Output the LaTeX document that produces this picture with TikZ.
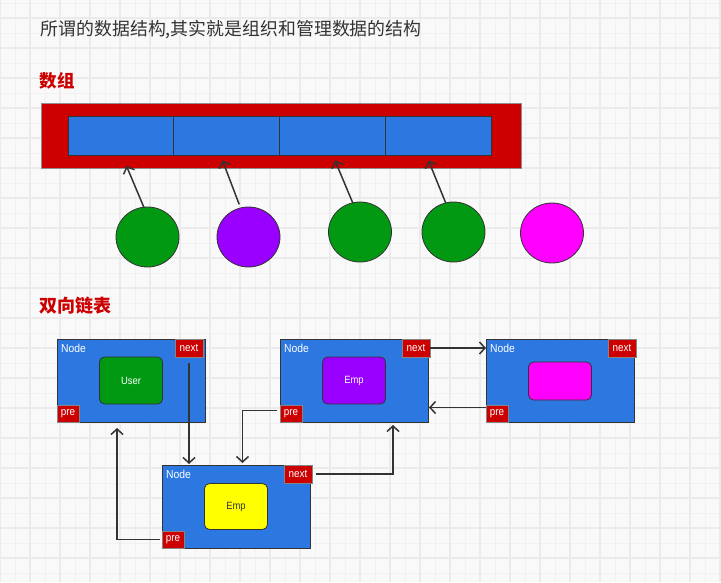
\documentclass[tikz,border=0pt]{standalone}
\usepackage{fontspec}
\setmainfont{Liberation Sans}
\newfontfamily\cjk{Noto Sans CJK SC}
\newfontfamily\lblfont[FakeStretch=0.9]{Liberation Sans}
\usetikzlibrary{arrows.meta,shapes.geometric}
\definecolor{paper}{HTML}{F9F9F9}
\definecolor{gridminor}{HTML}{F1F1F1}
\definecolor{gridmajor}{HTML}{EBEBEB}
\definecolor{ink}{HTML}{333333}
\definecolor{hdred}{HTML}{CC0000}
\definecolor{cellblue}{HTML}{2C78E0}
\definecolor{objgreen}{HTML}{009911}
\definecolor{objpurple}{HTML}{9900FF}
\definecolor{objpink}{HTML}{FF00FF}
\definecolor{objyellow}{HTML}{FFFF00}

\begin{document}
\begin{tikzpicture}[x=1pt,y=-1pt,
  box/.style={rectangle, inner sep=0pt, outer sep=0pt},
  cellbox/.style={box, draw=ink, line width=0.9pt, fill=cellblue,
    minimum width=105.75pt, minimum height=39pt},
  ball/.style={ellipse, inner sep=0pt, outer sep=0pt, draw=ink, line width=0.8pt,
    minimum width=63pt, minimum height=60pt},
  lnode/.style={box, draw=ink, line width=0.9pt, fill=cellblue,
    minimum width=148pt, minimum height=83pt},
  tag/.style={box, draw=ink!60, line width=0.6pt, fill=hdred, text=white,
    font=\lblfont\fontsize{11}{12}\selectfont, minimum height=18pt},
  nexttag/.style={tag, minimum width=28pt, anchor=north east},
  pretag/.style={tag, minimum width=22pt, minimum height=17pt, anchor=south west},
  nodelbl/.style={inner sep=0pt, anchor=west, text=white,
    font=\lblfont\fontsize{11.5}{12}\selectfont},
  payload/.style={box, draw=ink, line width=0.8pt, rounded corners=5pt,
    minimum width=63pt, minimum height=47pt, font=\lblfont\fontsize{10.5}{11}\selectfont},
  ptr/.style={draw=ink, line width=1.5pt, -{Straight Barb[length=5.5pt,width=12pt]}},
  heading/.style={inner sep=0pt, anchor=west, text=hdred}
]
\useasboundingbox (0,0) rectangle (721,582);

% squared paper
\fill[paper] (0,0) rectangle (721,582);
\foreach \x in {15,45,...,705} \draw[gridminor, line width=1pt] (\x,0) -- (\x,582);
\foreach \y in {3,33,...,573} \draw[gridminor, line width=1pt] (0,\y) -- (721,\y);
\foreach \x in {0,30,...,720} \draw[gridmajor, line width=2pt] (\x,0) -- (\x,582);
\foreach \y in {18,48,...,578} \draw[gridmajor, line width=2pt] (0,\y) -- (721,\y);

% headings
\node[inner sep=0pt, anchor=west, text=ink, font=\cjk\fontsize{17.9}{20}\selectfont] (title)
  at (40.5,29.5) {所谓的数据结构,其实就是组织和管理数据的结构};
\node[heading, font=\cjk\bfseries\fontsize{17.5}{20}\selectfont] (h1) at (39.5,80.5) {数组};
\node[heading, font=\cjk\bfseries\fontsize{18}{20}\selectfont] (h2) at (39.5,305.5) {双向链表};

% array
\node[box, draw=ink!55, line width=0.8pt, fill=hdred, minimum width=480pt, minimum height=65pt]
  (arr) at (281,135.5) {};
\node[cellbox] (c1) at (120.875,135.5) {};
\node[cellbox] (c2) at (226.625,135.5) {};
\node[cellbox] (c3) at (332.375,135.5) {};
\node[cellbox] (c4) at (438.125,135.5) {};
\coordinate (t1) at (126.5,166);
\coordinate (t2) at (222.5,160.5);
\coordinate (t3) at (335,160.5);
\coordinate (t4) at (428.5,160.5);

% objects referenced by the array
\node[ball, fill=objgreen] (e1) at (147.5,237) {};
\node[ball, fill=objpurple] (e2) at (248.5,237) {};
\node[ball, fill=objgreen] (e3) at (360,232) {};
\node[ball, fill=objgreen] (e4) at (453.5,232) {};
\node[ball, fill=objpink] (e5) at (552,233) {};

\draw[ptr] (e1.97) -- (t1);
\draw[ptr] ([yshift=4pt]e2.108) -- (t2);
\draw[ptr] (e3.104) -- (t3);
\draw[ptr] (e4.105) -- (t4);

% doubly linked list
\node[lnode, anchor=north west] (A) at (57,339) {};
\node[lnode, anchor=north west] (B) at (280,339) {};
\node[lnode, anchor=north west] (C) at (486,339) {};
\node[lnode, anchor=north west] (D) at (162,465) {};

\foreach \n in {A,B,C,D} {
  \node[nodelbl] (\n l) at ([xshift=4pt,yshift=-9pt]\n.north west) {Node};
  \node[pretag] (\n p) at (\n.south west) {pre};
}
\node[nexttag] (An) at ([xshift=-2pt]A.north east) {next};
\node[nexttag] (Bn) at ([xshift=2pt]B.north east) {next};
\node[nexttag] (Cn) at ([xshift=2pt]C.north east) {next};
\node[nexttag] (Dn) at ([xshift=2pt]D.north east) {next};

\node[payload, fill=objgreen, text=white] (Ad) at (A) {User};
\node[payload, fill=objpurple, text=white] (Bd) at (B) {Emp};
\node[payload, fill=objpink, minimum height=38pt] (Cd) at ([yshift=-0.5pt]C.center) {};
\node[payload, fill=objyellow, text=ink, minimum height=46pt] (Dd) at (D) {Emp};

% links
\draw[ptr, shorten >=1pt] ([yshift=-6pt]An.south) -- (An.south |- D.north);
\draw[ptr, shorten >=2pt] ([xshift=-3pt,yshift=3pt]Bp.west) -| ([xshift=6.5pt]D.north);
\draw[ptr, shorten >=3pt] ([xshift=4pt]Dn.east) -| ([xshift=39pt]B.south);
\draw[ptr, shorten >=6pt] ([xshift=-2pt]Dp.west) -| ([xshift=-14pt]A.south);
\draw[ptr] (Bn.east) -- (Bn.east -| C.west);
\coordinate (cpo) at ([yshift=6pt]Cp.west);
\draw[ptr, shorten >=1pt] (cpo) -- (cpo -| B.east);
\end{tikzpicture}
\end{document}
